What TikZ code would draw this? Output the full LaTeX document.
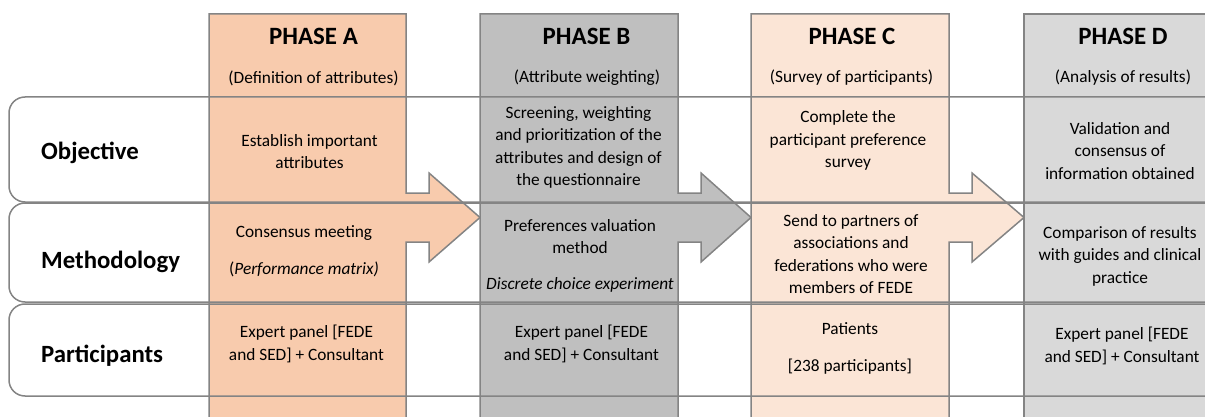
\documentclass[tikz,border=0pt]{standalone}
\usepackage{fontspec}
\setmainfont{Carlito}
\usepackage{xcolor}
\usepackage{tikz}
\definecolor{phaseA}{HTML}{F8CBAD}
\definecolor{phaseB}{HTML}{BFBFBF}
\definecolor{phaseC}{HTML}{FBE5D6}
\definecolor{phaseD}{HTML}{D9D9D9}
\definecolor{linegray}{HTML}{848484}

\begin{document}
\begin{tikzpicture}[x=1pt, y=-1pt]
\tikzstyle{border}=[draw=linegray, line width=1.5pt]
\tikzstyle{rowbox}=[border, rounded corners=16pt]
\tikzstyle{cell}=[align=center, inner sep=0pt, font=\fontsize{17.3}{22.5}\selectfont]
\tikzstyle{phasetitle}=[inner sep=0pt, font=\fontsize{24.9}{28}\selectfont\bfseries]
\tikzstyle{rowlabel}=[anchor=west, inner sep=0pt, font=\fontsize{24.8}{28}\selectfont\bfseries]

\useasboundingbox (0,0) rectangle (1205,417);
\clip (0,0) rectangle (1205,417);

% Phase columns, each with its block arrow to the next one
\path[fill=phaseA, border] (209,430) -- (209,14) -- (406,14) -- (406,193) -- (429,193) -- (429,173) -- (480,217.5) -- (429,262) -- (429,242) -- (406,242) -- (406,430);
\path[fill=phaseB, border] (480,430) -- (480,14) -- (678,14) -- (678,193) -- (701,193) -- (701,173) -- (751,217.5) -- (701,262) -- (701,242) -- (678,242) -- (678,430);
\path[fill=phaseC, border] (751,430) -- (751,14) -- (949,14) -- (949,193) -- (972,193) -- (972,173) -- (1024,217.5) -- (972,262) -- (972,242) -- (949,242) -- (949,430);
\path[fill=phaseD, border] (1024,430) -- (1024,14) -- (1230,14) -- (1230,430);

% Rows
\draw[rowbox] (9,97) rectangle (1250,202);
\draw[rowbox] (9,203) rectangle (1250,302);
\draw[rowbox] (9,304) rectangle (1250,396);

\node[rowlabel] (objective) at (41,153) {Objective};
\node[rowlabel] (methodology) at (41,262) {Methodology};
\node[rowlabel] (participants) at (41,356) {Participants};

\node[phasetitle] (title-a) at (313.5,36) {PHASE A};
\node[phasetitle] (title-b) at (586.5,36) {PHASE B};
\node[phasetitle] (title-c) at (852,36) {PHASE C};
\node[phasetitle] (title-d) at (1123,36) {PHASE D};

\node[cell] (sub-a) at (313.5,78) {(Definition of attributes)};
\node[cell] (sub-b) at (587,78) {(Attribute weighting)};
\node[cell] (sub-c) at (851.5,78) {(Survey of participants)};
\node[cell] (sub-d) at (1123,78) {(Analysis of results)};

\node[cell] (obj-a) at (309.5,151.5) {Establish important \\ attributes};
\node[cell] (obj-b) at (578.5,147.5) {Screening, weighting \\ and prioritization of the \\ attributes and design of \\ the questionnaire};
\node[cell] (obj-c) at (848,140.5) {Complete the \\ participant preference \\ survey};
\node[cell] (obj-d) at (1120,151) {Validation and \\ consensus of \\ information obtained};

\node[cell] (meth-a) at (304,251.5) {Consensus meeting \\[14.5pt] (\textit{Performance matrix)}};
\node[cell] (meth-b) at (580,256) {Preferences valuation \\ method \\[13.5pt] \textit{Discrete choice experiment}};
\node[cell] (meth-c) at (851,254) {Send to partners of \\ associations and \\ federations who were \\ members of FEDE};
\node[cell] (meth-d) at (1120,256) {Comparison of results \\ with guides and clinical \\ practice};

\node[cell] (part-a) at (306.5,344) {Expert panel [FEDE \\ and SED] + Consultant};
\node[cell] (part-b) at (581.5,344) {Expert panel [FEDE \\ and SED] + Consultant};
\node[cell] (part-c) at (850,348.5) {Patients \\[14.5pt] [238 participants]};
\node[cell] (part-d) at (1122,346) {Expert panel [FEDE \\ and SED] + Consultant};
\end{tikzpicture}
\end{document}
